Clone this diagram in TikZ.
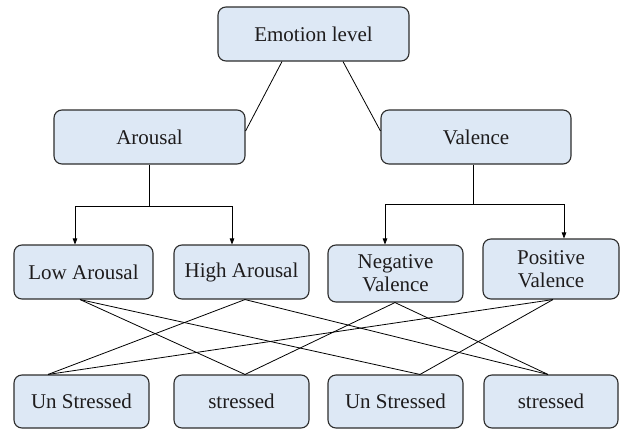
\documentclass[tikz,border=0pt]{standalone}
\usepackage{fontspec}
\setmainfont{Liberation Serif}
\newfontfamily\boxfont{Liberation Serif}
\usetikzlibrary{arrows.meta}
\definecolor{boxfill}{RGB}{221,232,245}
\definecolor{boxline}{RGB}{45,45,45}
\definecolor{txt}{RGB}{30,28,29}
\tikzset{
  box/.style={draw=boxline, line width=1.1pt, fill=boxfill, rounded corners=8pt,
    inner sep=0pt, align=center, text=txt,
    font=\boxfont\fontsize{21}{23}\selectfont},
  link/.style={draw=black, line width=0.8pt},
  arr/.style={link, -{Triangle[length=6pt,width=4.5pt]}}
}
\begin{document}
\begin{tikzpicture}[x=1pt,y=-1pt]
\useasboundingbox (0,0) rectangle (622,429);
\node[box, minimum width=191pt, minimum height=54pt] (emo) at (313.5,34) {Emotion level};
\node[box, minimum width=191pt, minimum height=54pt] (aro) at (149.5,137) {Arousal};
\node[box, minimum width=190pt, minimum height=54pt] (val) at (476,137) {Valence};
\node[box, minimum width=139pt, minimum height=54pt] (low) at (83.5,272) {Low Arousal};
\node[box, minimum width=135pt, minimum height=54pt] (high) at (241.5,272) {High Arousal};
\node[box, minimum width=135pt, minimum height=57pt] (neg) at (395.5,273.5) {Negative\\Valence};
\node[box, minimum width=136pt, minimum height=60pt] (pos) at (551,269) {Positive\\Valence};
\node[box, minimum width=135pt, minimum height=53pt] (us1) at (81.5,401.5) {Un Stressed};
\node[box, minimum width=135pt, minimum height=53pt] (s1) at (241.5,401.5) {stressed};
\node[box, minimum width=135pt, minimum height=53pt] (us2) at (395.5,401.5) {Un Stressed};
\node[box, minimum width=134pt, minimum height=53pt] (s2) at (551,401.5) {stressed};
% top links
\draw[link] ([xshift=-31.5pt]emo.south) -- ([yshift=6pt]aro.east);
\draw[link] ([xshift=29.5pt]emo.south) -- ([yshift=6pt]val.west);
% arousal branch
\coordinate (aroj) at (149.5,206);
\draw[link] (aro.south) -- (aroj);
\draw[arr] (aroj) -| ([xshift=-8.5pt]low.north);
\draw[arr] (aroj) -| ([xshift=-9.5pt]high.north);
% valence branch
\coordinate (valj) at (473,204);
\draw[link] ([xshift=-3pt]val.south) -- (valj);
\draw[arr] (valj) -| ([xshift=-10.5pt]neg.north);
\draw[arr] (valj) -| ([xshift=13pt]pos.north);
% cross links
\draw[link] ([xshift=-3.5pt]low.south) -- ([xshift=3.5pt]s1.north);
\draw[link] ([xshift=-3.5pt]low.south) -- ([xshift=24.5pt]us2.north);
\draw[link] ([xshift=3.5pt]high.south) -- ([xshift=-33.5pt]us1.north);
\draw[link] ([xshift=3.5pt]high.south) -- ([xshift=-3pt]s2.north);
\draw[link] ([xshift=-0.5pt]neg.south) -- ([xshift=3.5pt]s1.north);
\draw[link] ([xshift=-0.5pt]neg.south) -- ([xshift=-3pt]s2.north);
\draw[link] ([xshift=2pt]pos.south) -- ([xshift=-33.5pt]us1.north);
\draw[link] ([xshift=2pt]pos.south) -- ([xshift=24.5pt]us2.north);
\end{tikzpicture}
\end{document}
